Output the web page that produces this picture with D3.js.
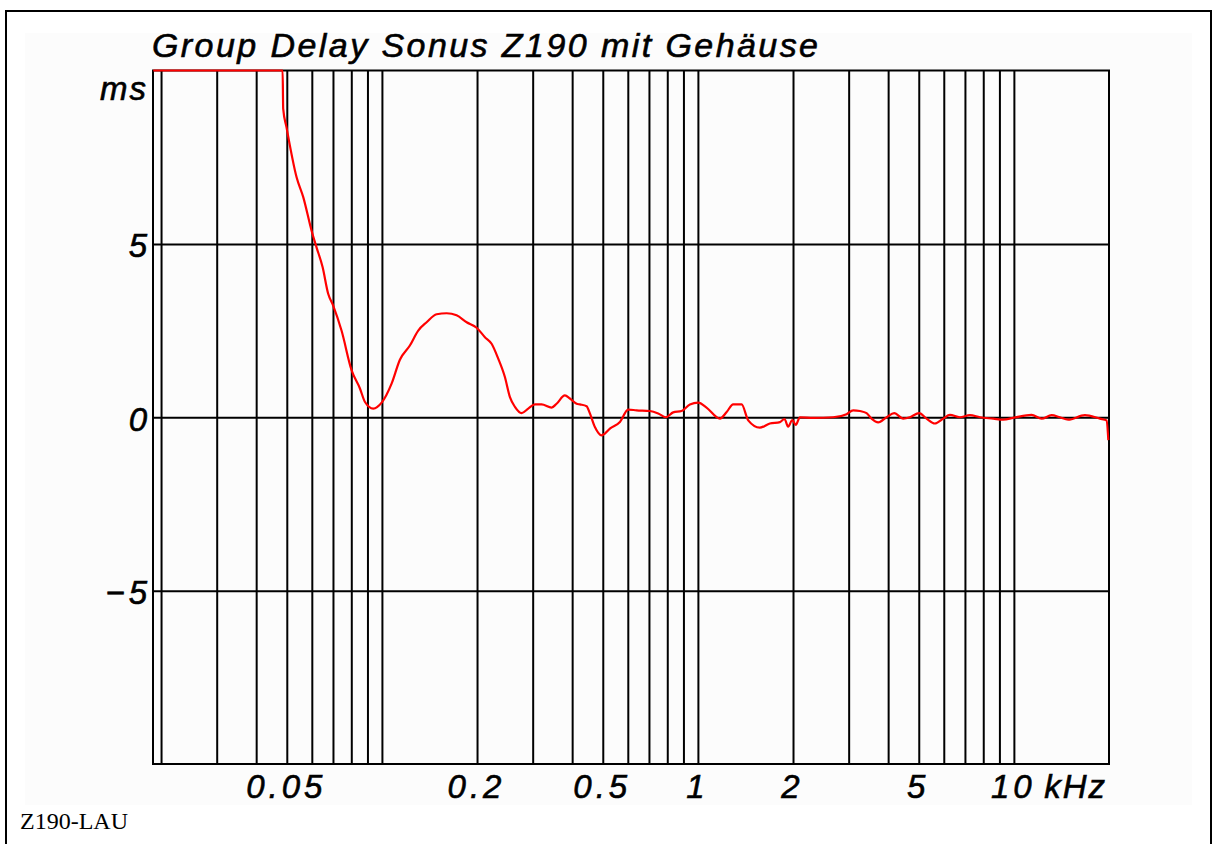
<!DOCTYPE html>
<html><head><meta charset="utf-8">
<script src="https://cdn.jsdelivr.net/npm/d3@7"></script>
<style>body{margin:0;background:#fff} svg{display:block}</style>
</head><body><svg id="c" width="1213" height="844"></svg>
<script>
const titleText = "Group Delay Sonus Z190 mit Gehäuse";
const yUnit = "ms";
const xUnit = "kHz";
const footer = "Z190-LAU";
const gridFreqs = [20,30,40,50,60,70,80,90,100,200,300,400,500,600,700,800,900,1000,2000,3000,4000,5000,6000,7000,8000,9000,10000];
const xTickFreqs = [50,200,500,1000,2000,5000,10000];
const xTickLabels = ["0.05","0.2","0.5","1","2","5","10"];
const yTicks = [-5,0,5];
const yTickLabels = ["\u22125","0","5"];
const xDomain = [18.86, 20000];
const yDomain = [-10, 10];

const freqHz = [18.9,48.5,48.7,49.9,53.7,56.4,59.9,62.1,64.9,67.6,70.1,74.5,80.2,85.2,88.4,93.9,99.8,107.3,114,122.6,130.3,138.5,149,160.3,172.3,185.4,199.4,211.8,222.4,233.4,245,254.2,263.6,276.8,290.4,305,320.2,344.4,357.1,379.4,393.5,413.2,423.3,444.4,455.2,472.1,495.8,507.8,526.6,566.5,601.7,639.7,704.9,748.7,791.8,835.1,887.9,943.4,1002,1065,1174,1233,1293,1375,1443,1571,1689,1818,1880,1930,1990,2040,2103,2317,2680,2955,3100,3256,3419,3545,3720,3956,4181,4464,4688,5015,5293,5623,5975,6274,6747,7258,7807,8600,9250,9949,11376,12240,13160,13980,14850,16780,18720,19660,19900];
const delayMs = [10,10,8.9,8.36,6.92,6.34,5.38,4.9,4.33,3.56,3.22,2.5,1.35,0.83,0.44,0.25,0.42,0.97,1.66,2.07,2.5,2.74,2.97,3.0,2.94,2.74,2.58,2.31,2.12,1.69,1.16,0.58,0.3,0.12,0.25,0.37,0.37,0.28,0.39,0.63,0.54,0.39,0.37,0.32,0.11,-0.28,-0.52,-0.47,-0.33,-0.14,0.22,0.2,0.18,0.11,0.0,0.14,0.18,0.37,0.42,0.28,-0.04,0.15,0.37,0.37,-0.09,-0.3,-0.18,-0.14,-0.05,-0.27,-0.08,-0.22,0.0,-0.02,0.0,0.09,0.2,0.18,0.12,-0.04,-0.15,0.0,0.12,-0.04,0.0,0.12,-0.04,-0.18,-0.04,0.07,0.0,0.06,0.0,-0.04,-0.07,-0.02,0.07,-0.04,0.06,0.0,-0.07,0.06,-0.04,-0.09,-0.66];

const svg = d3.select("#c");
const L = 153, R = 1109, T = 70.5, B = 764;
const x = d3.scaleLog().domain(xDomain).range([L, R]);
const y = d3.scaleLinear().domain(yDomain).range([B, T]).clamp(true);
const font = "'Liberation Sans', Arial, sans-serif";

function styleText(sel, size, ls) {
  sel.style("font-family",font).style("font-style","italic").style("font-size",size+"px")
    .style("letter-spacing",ls+"px").attr("fill","#000")
    .attr("stroke","#000").attr("stroke-width",0.6);
}

// outer border and faint panel
svg.append("rect").attr("x",6).attr("y",11).attr("width",1205).attr("height",850)
  .attr("fill","#fff").attr("stroke","#000").attr("stroke-width",2);
svg.append("rect").attr("x",25).attr("y",33).attr("width",1167).attr("height",772).attr("fill","#fcfcfc");

// vertical grid via axis
const gx = svg.append("g").attr("transform",`translate(0,${B})`)
  .call(d3.axisBottom(x).tickValues(gridFreqs).tickSize(-(B-T)).tickFormat(""));
gx.select(".domain").remove();
gx.selectAll("line").attr("stroke","#000").attr("stroke-width",2);

// horizontal grid via axis
const gy = svg.append("g").attr("transform",`translate(${L},0)`)
  .call(d3.axisLeft(y).tickValues(yTicks).tickSize(-(R-L)).tickFormat(""));
gy.select(".domain").remove();
gy.selectAll("line").attr("stroke","#000").attr("stroke-width",2);

// frame
svg.append("rect").attr("x",L).attr("y",T).attr("width",R-L).attr("height",B-T)
  .attr("fill","none").attr("stroke","#000").attr("stroke-width",2);

// x labels
const xl = svg.append("g").attr("transform",`translate(0,${B})`)
  .call(d3.axisBottom(x).tickValues(xTickFreqs).tickSize(0).tickPadding(0)
    .tickFormat((d,i)=>xTickLabels[i]));
xl.select(".domain").remove();
xl.selectAll("text").attr("y",34).attr("dy",0).attr("dx",-1).call(styleText,33,4);

svg.append("text").attr("x",1107).attr("y",798).attr("text-anchor","end").call(styleText,33,2).text(xUnit);

// y labels
const yl = svg.append("g").attr("transform",`translate(${L},0)`)
  .call(d3.axisLeft(y).tickValues(yTicks).tickSize(0).tickPadding(0)
    .tickFormat((d,i)=>yTickLabels[yTicks.indexOf(d)]));
yl.select(".domain").remove();
yl.selectAll("text").attr("x",-2).attr("dy",13).call(styleText,33,4);

svg.append("text").attr("x",148).attr("y",100).attr("text-anchor","end").call(styleText,33,2).text(yUnit);

// title
svg.append("text").attr("x",152).attr("y",57)
  .attr("textLength",666).attr("lengthAdjust","spacing")
  .call(styleText,34,0)
  .text(titleText);

// footer
svg.append("text").attr("x",20).attr("y",829)
  .style("font-family","'Liberation Serif', 'Times New Roman', serif").style("font-size","24px")
  .text(footer);

// curve
const data = freqHz.map((f,i)=>({f, v: delayMs[i]}));
svg.append("path").datum(data)
  .attr("fill","none").attr("stroke","#ff0000").attr("stroke-width",2.2)
  .attr("stroke-linejoin","round")
  .attr("d", d3.line().curve(d3.curveMonotoneX).x(d=>x(d.f)).y(d=>y(d.v)));
</script></body></html>
